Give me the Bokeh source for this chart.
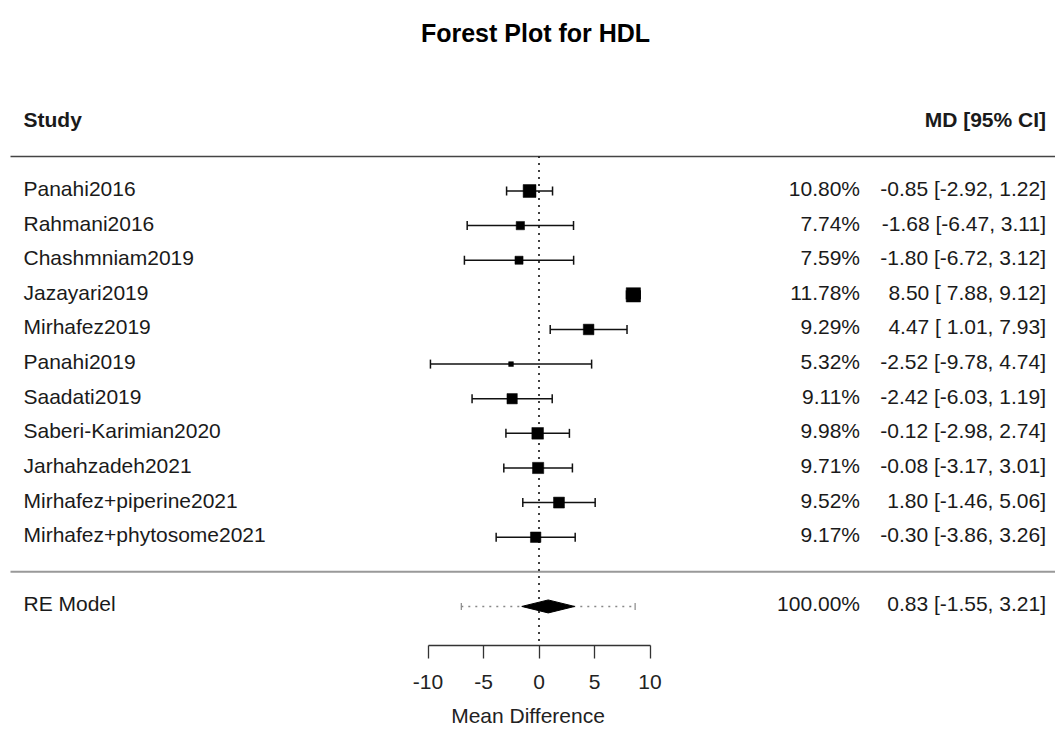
from bokeh.plotting import figure
from bokeh.models import Range1d, FixedTicker, Label, ColumnDataSource
from bokeh.core.properties import value
from bokeh.embed import file_html
from bokeh.resources import INLINE

# ---------------- data ----------------
title_text = "Forest Plot for HDL"
studies = ["Panahi2016", "Rahmani2016", "Chashmniam2019", "Jazayari2019", "Mirhafez2019",
           "Panahi2019", "Saadati2019", "Saberi-Karimian2020", "Jarhahzadeh2021",
           "Mirhafez+piperine2021", "Mirhafez+phytosome2021"]
md = [-0.85, -1.68, -1.80, 8.50, 4.47, -2.52, -2.42, -0.12, -0.08, 1.80, -0.30]
ci_lo = [-2.92, -6.47, -6.72, 7.88, 1.01, -9.78, -6.03, -2.98, -3.17, -1.46, -3.86]
ci_hi = [1.22, 3.11, 3.12, 9.12, 7.93, 4.74, 1.19, 2.74, 3.01, 5.06, 3.26]
weights = [10.80, 7.74, 7.59, 11.78, 9.29, 5.32, 9.11, 9.98, 9.71, 9.52, 9.17]
re_label = "RE Model"
re_est, re_lo, re_hi = 0.83, -1.55, 3.21
re_weight = 100.00
pi_lo, pi_hi = -7.00, 8.66
x_ticks = [-10, -5, 0, 5, 10]
x_label = "Mean Difference"
col_study = "Study"
col_ci = "MD [95% CI]"

# ---------------- layout constants ----------------
W, H = 1055, 730
ZERO_PX, PX_UNIT = 538.5, 11.1
ROW11_PX, ROW_PX = 190.5, 34.62
FRAME_BOTTOM = 645
FONT = "Liberation Sans"
FS = "21px"

def xd(px):
    return (px - ZERO_PX) / PX_UNIT

def yd(px):
    return 11 + (ROW11_PX - px) / ROW_PX

k = len(studies)
rows = [k - i for i in range(k)]
re_row = -1

p = figure(width=W, height=H, output_backend="svg", toolbar_location=None,
           x_range=Range1d(xd(0), xd(W)), y_range=Range1d(yd(FRAME_BOTTOM), yd(0)),
           y_axis_location=None, min_border_left=0, min_border_right=0,
           min_border_top=0, min_border_bottom=H - FRAME_BOTTOM)
p.outline_line_color = None
p.xgrid.visible = False
p.ygrid.visible = False
p.background_fill_color = "white"

# axis
ax = p.xaxis[0]
ax.bounds = (min(x_ticks), max(x_ticks))
ax.ticker = FixedTicker(ticks=x_ticks)
ax.major_label_overrides = {t: str(t) for t in x_ticks}
ax.minor_tick_line_color = None
ax.major_tick_in = 0
ax.major_tick_out = 13
ax.axis_line_color = "#333333"
ax.axis_line_width = 1.3
ax.major_tick_line_color = "#333333"
ax.major_tick_line_width = 1.3
ax.major_label_text_font = FONT
ax.major_label_text_font_size = FS
ax.major_label_text_color = "#222222"
ax.major_label_standoff = 16
ax.axis_label = x_label
ax.axis_label_text_font = FONT
ax.axis_label_text_font_size = FS
ax.axis_label_text_font_style = "normal"
ax.axis_label_text_color = "#222222"
ax.axis_label_standoff = 12

x_left_line = xd(10)
x_right = xd(W)
# header line and summary separator
p.segment(x0=[x_left_line], y0=[k + 1], x1=[x_right], y1=[k + 1], line_color="#444444", line_width=1.5)
p.segment(x0=[x_left_line], y0=[0], x1=[x_right], y1=[0], line_color="#999999", line_width=2)

# reference line at 0
p.segment(x0=[0], y0=[-2], x1=[0], y1=[k + 1], line_color="black", line_width=1.5, line_dash="2 5")

# CIs
cap = 4.5 / ROW_PX
src = ColumnDataSource(dict(y=rows, md=md, lo=ci_lo, hi=ci_hi, w=weights))
p.segment(x0="lo", y0="y", x1="hi", y1="y", source=src, line_color="#111111", line_width=1.5)
p.segment(x0=ci_lo, y0=[r - cap for r in rows], x1=ci_lo, y1=[r + cap for r in rows],
          line_color="#111111", line_width=1.5)
p.segment(x0=ci_hi, y0=[r - cap for r in rows], x1=ci_hi, y1=[r + cap for r in rows],
          line_color="#111111", line_width=1.5)

# square sizes from weights
wmin, wmax = min(weights), max(weights)
sizes = [9.53 * (0.5 + (w - wmin) / (wmax - wmin)) for w in weights]
src.data["size"] = sizes
p.scatter(x="md", y="y", size="size", marker="square", source=src,
          fill_color="black", line_color="black", line_width=0.5)

# prediction interval
pcap = 3.5 / ROW_PX
p.segment(x0=[pi_lo], y0=[re_row], x1=[pi_hi], y1=[re_row], line_color="#888888",
          line_width=1.4, line_dash="2 5")
p.segment(x0=[pi_lo, pi_hi], y0=[re_row - pcap] * 2, x1=[pi_lo, pi_hi], y1=[re_row + pcap] * 2,
          line_color="#888888", line_width=1.2)

# diamond
dh = 6.5 / ROW_PX
p.patch(x=[re_lo, re_est, re_hi, re_est], y=[re_row, re_row + dh, re_row, re_row - dh],
        fill_color="black", line_color="black", line_width=1)

# text columns
def fmt(v, w):
    return f"{v:.2f}".rjust(w)

lo_w = max(len(f"{v:.2f}") for v in ci_lo + [re_lo])
hi_w = max(len(f"{v:.2f}") for v in ci_hi + [re_hi])
ci_txt = [f"{e:.2f} [{fmt(l, lo_w)}, {fmt(h, hi_w)}]" for e, l, h in zip(md, ci_lo, ci_hi)]
w_txt = [f"{w:.2f}%" for w in weights]
re_ci_txt = f"{re_est:.2f} [{fmt(re_lo, lo_w)}, {fmt(re_hi, hi_w)}]"
re_w_txt = f"{re_weight:.2f}%"

x_names = xd(23)
x_w = xd(859.5)
x_ci = xd(1045.5)
text_dy = 2.5 / ROW_PX

all_rows = rows + [re_row]
ty = [r + text_dy for r in all_rows]
common = dict(text_font=value(FONT), text_font_size=FS, text_color="#1a1a1a", text_baseline="middle")
p.text(x=[x_names] * len(ty), y=ty, text=studies + [re_label], text_align="left", **common)
p.text(x=[x_w] * len(ty), y=ty, text=w_txt + [re_w_txt], text_align="right", **common)
p.text(x=[x_ci] * len(ty), y=ty, text=ci_txt + [re_ci_txt], text_align="right", **common)

# headers
hy = k + 2 + text_dy
p.text(x=[x_names], y=[hy], text=[col_study], text_align="left", text_font_style="bold", **common)
p.text(x=[x_ci], y=[hy], text=[col_ci], text_align="right", text_font_style="bold", **common)

# title
p.add_layout(Label(x=xd(535), y=yd(32), text=title_text, text_align="center", text_baseline="middle",
                   text_font=FONT, text_font_size="25px", text_font_style="bold", text_color="black"))

open("out.html", "w").write(file_html(p, INLINE))
